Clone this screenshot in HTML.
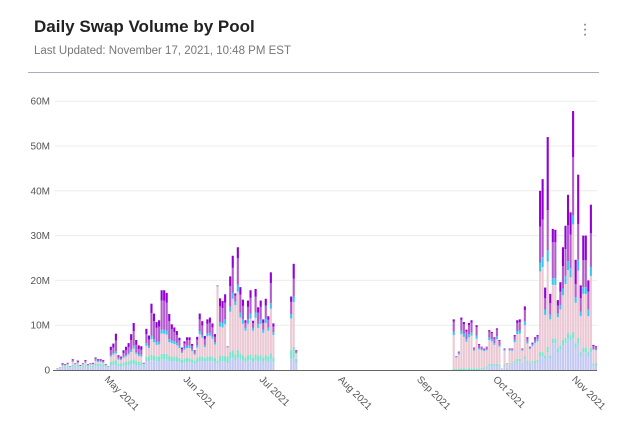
<!DOCTYPE html>
<html><head><meta charset="utf-8">
<style>
body{margin:0;background:#fff;font-family:"Liberation Sans",sans-serif;}
#wrap{position:relative;width:636px;height:433px;overflow:hidden;background:#fff;}
#title{position:absolute;left:34px;top:17px;font-size:17px;font-weight:bold;color:#222;}
#sub{position:absolute;left:34px;top:45px;font-size:11.5px;color:#777;}
#sep{position:absolute;left:28px;top:72px;width:571px;height:1px;background:#a9afb8;}
#menu{position:absolute;left:578px;top:22px;width:14px;height:20px;font-size:16px;color:#777;line-height:5px;text-align:center;}
svg{position:absolute;left:0;top:0;}
</style></head><body>
<div id="wrap">
<div id="title">Daily Swap Volume by Pool</div>
<div id="sub">Last Updated: November 17, 2021, 10:48 PM EST</div>
<div id="sep"></div>
<div id="menu">·<br>·<br>·</div>
<svg id="chart" width="636" height="433"></svg>
</div>
<script>
const segmentStarts = ["2021-04-13","2021-07-14","2021-09-16"];
const segmentLengths = [86,3,57];
const seriesNames = ["base-pool","teal-pool","pink-pool","cyan-pool","orchid-pool","purple-pool"];
const yTicks = [0,10,20,30,40,50,60];
const yTickLabels = ["0","10M","20M","30M","40M","50M","60M"];
const xTickDates = ["2021-05-01","2021-06-01","2021-07-01","2021-08-01","2021-09-01","2021-10-01","2021-11-01"];
const xTickLabels = ["May 2021","Jun 2021","Jul 2021","Aug 2021","Sep 2021","Oct 2021","Nov 2021"];
const basePool = [.2,.3,.5,.5,.6,.4,.8,.6,.7,.5,.6,.8,.5,.6,.6,1,.9,.9,.8,.5,.4,1,1.1,1.2,.9,.9,1,1,1.1,1.2,1.3,1.1,1,1,.8,2,2,2.2,2.1,2,2,2.3,2.3,2.3,2.1,
2,2,1.9,1.8,1.5,1.7,1.8,1.8,1.6,1.4,1.8,2,2,1.8,2,2,2,1.8,1.5,2,2,2,1.5,2.5,2.8,2.2,2.8,2.3,2.1,1.8,2.1,2.2,1.8,2.2,2,2.1,1.8,2.1,1.9,2.3,1.8,
2.5,2.7,1.5,
0,0,0,0,0,0,0,0,0,0,0,.2,.3,.5,1,1,1,1,.8,.2,1,.5,1.2,1.2,1.6,2,2,1.2,2.4,1.6,1.4,1.5,1.6,1.8,3,3,2.5,4,2.5,6,6,4,4.5,5.5,6,7,6.5,7,5,6,3,4,4,3,4,1,1];
const tealPool = [.1,.1,.3,.3,.3,.2,.4,.3,.4,.2,.3,.4,.3,.3,.3,.5,.5,.5,.4,.3,.2,.8,.9,1,.6,.6,.7,.8,.9,1,1.1,.9,.8,.8,.3,1,1,1.2,1.1,1,1,1.3,1.3,1.3,1.1,
1,1,1,.9,.8,.9,.9,.9,.8,.7,.9,1,1,.9,1,1,1,.9,.6,1.2,1.2,1.2,1.5,1.5,1.6,1.3,1.7,1.4,1.2,1,1.2,1.3,1,1.3,1.2,1.2,1,1.2,1.1,1.4,1,
2,2.5,1,
.3,.2,.3,.4,.4,.3,.4,.4,.3,.4,.3,.3,.3,.3,.4,.4,.4,.4,.4,0,.3,.1,.3,.3,.4,.5,.5,.3,.6,.4,.3,.4,.4,.5,1,1,.8,1.2,.8,1,1,.8,1,1.2,1.2,1.3,1.2,1.5,1,1.2,1,1,1,1,1,.5,.5];
const pinkPool = [0,.1,.2,.2,.3,.1,.6,.3,.4,.2,.3,.4,.2,.3,.3,.5,.4,.4,.4,.2,.1,1.2,1.4,1.5,.8,.7,1,1.2,1.4,1.8,2.4,1.6,1.3,1.2,.2,2.4,1.9,3.5,3,2.6,2.7,4.5,4.5,4.3,3,
3,2.8,2.6,2.2,1.5,1.9,2.2,2.2,1.8,1.3,2.3,5,4.2,2.4,4.5,4.7,4,3,16.5,6.5,6.3,7,2,9,11.5,11,13,8,7,6,7,8,6,8.2,6.2,7,5.5,7.2,5.8,10,5,
7,10,1.2,
7.5,2.6,3.2,7.6,7,6,6.9,7.3,4,6.6,4.3,3.9,3.6,3.6,5.3,5,4.2,5.5,4,.2,3,.8,2.8,2.8,4.2,5.5,5.6,2.8,7,3.9,3,3.4,4,4.1,18,19,9,19,8,12,12,7,8,10,12,14,13,24,9,15,8,12,12,8,16,3,2.9];
const cyanPool = [0,0,.1,.1,.1,.1,.2,.1,.2,0,.1,.2,.1,.1,.1,.3,.2,.2,.2,.1,.1,.3,.4,.5,.2,.2,.3,.3,.4,.5,.6,.4,.4,.4,.1,.6,.5,.8,.7,.6,.6,.9,.9,.9,.7,
.6,.6,.5,.5,.3,.4,.5,.5,.4,.3,.5,.7,.6,.5,.6,.6,.6,.5,.1,1,1,1.1,.1,1.2,1.4,.8,1.5,1.1,1,.6,1,1.1,.6,1.1,.9,1,.7,1,.7,1.2,.6,
1,1.2,.2,
.8,.1,.2,.8,.7,.6,.7,.7,.2,.7,.3,.2,.2,.2,.5,.5,.4,.6,.3,0,.2,0,.2,.2,.5,.7,.7,.2,.9,.4,.2,.3,.4,.5,2,2.2,1.2,2.5,1.1,1.5,1.5,.8,1,1.5,1.8,2,2,2,1.2,2.4,1,1.5,1.5,1.5,2,.2,.2];
const orchidPool = [.1,.1,.2,.1,.2,.1,.2,.1,.2,.1,.1,.2,.1,.1,.2,.3,.2,.2,.2,.1,.1,1.1,1.2,2.4,.5,.4,.8,1.1,1.3,2.2,3.3,1.6,1.2,1.1,.1,2,1.4,5,4,3.2,3.4,6.5,6.5,6.2,4,
2.5,2.1,1.8,1.2,.6,1,1.3,1.3,.8,.5,1.3,2.6,2.1,1.3,2.2,2.3,1.9,1.2,.2,3.5,3.3,3.7,.2,4.5,5.5,1.3,6,4,3,1.2,2.8,3.5,1.1,3.6,2.5,2.8,1.5,2.9,1.7,4.5,1.3,
2.7,4,.3,
2.2,.2,.3,2.4,2.1,1.7,2,2.2,.4,1.9,.7,.5,.3,.5,1.4,1.3,1,1.5,1,0,.2,.1,.2,.2,.8,1.8,1.9,.2,2.5,.7,.2,.3,.6,.6,8,8.4,2.5,9,2.5,8,8,1.8,3,5,6,8,7.5,13,3,8,3,6,6,4,7.5,.6,.5];
const purplePool = [0,0,.2,.1,.1,0,.2,.1,.2,.1,.1,.2,.1,.1,.1,.2,.2,.2,.2,.1,0,.8,.9,1.5,.3,.2,.6,.8,.9,1.3,1.8,1.1,.8,.8,.1,1.2,.9,2.1,1.7,1.3,1.4,2.3,2.3,2.2,1.6,
1.1,1,.9,.6,.3,.5,.6,.6,.4,.2,.6,1.3,1,.7,1,1.1,.9,.6,0,1.8,1.6,1.9,0,2.2,2.7,.5,2.4,1.7,1.4,.5,1.4,1.7,.5,1.7,1.2,1.4,.8,1.5,.8,2.4,.7,
1.2,3.3,.2,
.5,0,.1,.5,.5,.4,.5,.5,.1,.4,.2,.1,.1,.1,.3,.3,.3,.3,.2,0,.1,0,.1,.1,.3,.6,.6,.1,.8,.3,.1,.2,.3,.3,8,9,2.4,16.3,2.1,3,2.8,1.2,2.1,4.2,5.2,6.8,5,10.3,5.4,11,2.9,5.5,5.5,2.5,6.4,.3,.2];
const seriesValues = [basePool,tealPool,pinkPool,cyanPool,orchidPool,purplePool];
const seriesColors = ["#c3c9f3","#7fe3cc","#ebc9d4","#3cc6ee","#b35ccc","#9200d6"];

const NS="http://www.w3.org/2000/svg";
const svg=document.getElementById('chart');
const DAY=86400000;
const domainStart=Date.UTC(2021,3,12), pxStart=53.7, pxPerDay=2.54;
function xScale(t){return pxStart+(t-domainStart)/DAY*pxPerDay;}
const y0=370, pxPerM=4.48;
function yScale(v){return y0-v*pxPerM;}
function parseD(s){const p=s.split('-');return Date.UTC(+p[0],+p[1]-1,+p[2]);}
function mk(tag,attrs){const e=document.createElementNS(NS,tag);for(const k in attrs)e.setAttribute(k,attrs[k]);return e;}

// gridlines and y labels
yTicks.forEach((v,i)=>{
  const y=yScale(v);
  if(v>0){const g=mk('line',{x1:55,x2:597,y1:y,y2:y,stroke:'#ececec','stroke-width':1});
  
  
  svg.appendChild(g);}
  const t=mk('text',{x:50,y:y+3.5,'text-anchor':'end','font-size':10,fill:'#555','font-family':'Liberation Sans, sans-serif'});
  t.textContent=yTickLabels[i];
  
  
  svg.appendChild(t);
});

// dates
const dates=[];
segmentStarts.forEach((s,i)=>{const st=parseD(s);for(let k=0;k<segmentLengths[i];k++)dates.push(st+k*DAY);});

// bars
dates.forEach((d,i)=>{
  let acc=0;
  const x=xScale(d)+0.2;
  seriesValues.forEach((arr,si)=>{
    const v=arr[i]||0; if(v<=0)return;
    const yt=yScale(acc+v), yb=yScale(acc);
    const r=mk('rect',{x:x,y:yt,width:2.1,height:Math.max(yb-yt,0.3),fill:seriesColors[si]});
    
    
    svg.appendChild(r);
    acc+=v;
  });
});

// baseline
const base=mk('line',{x1:53,x2:597,y1:y0+0.5,y2:y0+0.5,stroke:'#666','stroke-width':1});


svg.appendChild(base);

// x labels
xTickDates.forEach((s,i)=>{
  const x=xScale(parseD(s));
  const t=mk('text',{x:x+2,y:380,'font-size':10,fill:'#555','font-family':'Liberation Sans, sans-serif',transform:'rotate(45 '+(x+2)+' 380)'});
  t.textContent=xTickLabels[i];
  
  
  svg.appendChild(t);
});
</script>
</body></html>
